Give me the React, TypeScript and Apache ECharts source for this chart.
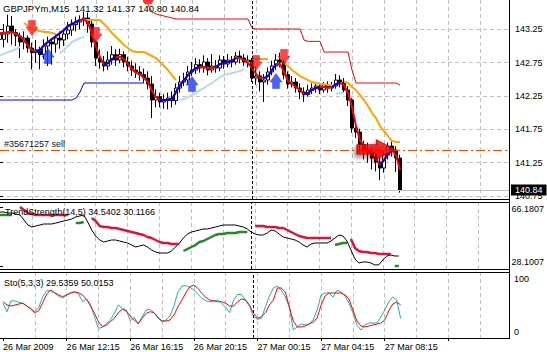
import React, { useEffect, useRef } from 'react';
import * as echarts from 'echarts';

// ---------- axes / labels ----------
const symbolName = 'GBPJPYm,M15';
const timeLabels = ['26 Mar 2009', '26 Mar 12:15', '26 Mar 16:15', '26 Mar 20:15', '27 Mar 00:15', '27 Mar 04:15', '27 Mar 08:15'];
const barsPerTimeLabel = 16;
const barsPerGridLine = 8;
const visibleBars = 127.25;
const daySeparatorBar = 63;
const priceTicks = [140.75, 141.25, 141.75, 142.25, 142.75, 143.25];
const priceRange = [140.706, 143.69];
const trendTicks = [28.1007, 66.1807];
const trendRange = [26.165, 69.408];
const stochTicks = [0, 100];
const trendHeader = 'TrendStrength(14,5) 34.5402 30.1166';
const stochHeader = 'Sto(5,3,3) 29.5359 50.0153';

// ---------- candles (bar index = position) ----------
const opens = [143.10,143.10,143.18,143.30,143.20,143.15,143.06,143.12,142.97,142.90,
 142.94,142.87,143.00,143.06,143.03,143.12,143.09,143.18,143.24,143.32,
 143.36,143.39,143.42,143.33,143.06,142.82,142.76,142.70,142.79,142.87,
 142.79,142.87,142.76,142.70,142.64,142.61,142.57,142.52,142.43,142.19,
 142.24,142.16,142.19,142.22,142.18,142.37,142.46,142.49,142.61,142.64,
 142.72,142.67,142.76,142.64,142.70,142.67,142.79,142.73,142.79,142.76,
 142.85,142.82,142.76,142.79,142.52,142.55,142.46,142.49,142.61,142.70,
 142.79,142.76,142.57,142.43,142.46,142.37,142.31,142.27,142.34,142.37,
 142.40,142.34,142.42,142.37,142.40,142.49,142.46,142.34,142.19,141.77,
 141.71,141.52,141.44,141.41,141.32,141.26,141.17,141.37,141.50,141.44,
 141.32];
const highs = [143.25,143.33,143.47,143.45,143.25,143.20,143.22,143.16,143.05,143.09,
 142.99,143.10,143.14,143.12,143.18,143.22,143.26,143.36,143.40,143.44,
 143.46,143.51,143.50,143.38,143.10,142.95,142.85,142.92,143.00,142.95,
 142.96,142.92,142.84,142.78,142.74,142.70,142.66,142.62,142.55,142.35,
 142.30,142.28,142.30,142.32,142.44,142.55,142.60,142.70,142.76,142.82,
 142.80,142.86,142.82,142.88,142.79,142.86,142.85,142.88,142.85,142.91,
 142.93,142.88,142.86,142.82,142.70,142.62,142.58,142.68,142.78,142.88,
 142.90,142.80,142.62,142.55,142.52,142.44,142.38,142.42,142.44,142.46,
 142.45,142.46,142.47,142.46,142.58,142.56,142.52,142.40,142.22,141.85,
 141.76,141.58,141.55,141.48,141.40,141.34,141.42,141.55,141.58,141.50,
 141.37];
const lows = [143.02,142.98,143.05,143.02,143.00,142.82,142.95,142.90,142.65,142.75,
 142.65,142.80,142.70,142.72,142.90,142.96,143.00,143.10,143.15,143.22,
 143.25,143.30,143.20,142.98,142.70,142.66,142.62,142.64,142.72,142.70,
 142.74,142.68,142.62,142.55,142.52,142.48,142.45,142.35,141.92,142.08,
 142.08,142.06,142.05,142.08,142.12,142.30,142.40,142.42,142.55,142.58,
 142.60,142.60,142.56,142.60,142.60,142.62,142.66,142.68,142.68,142.72,
 142.74,142.70,142.68,142.46,142.42,142.32,142.16,142.42,142.56,142.64,
 142.68,142.50,142.36,142.38,142.30,142.20,142.16,142.24,142.28,142.30,
 142.28,142.30,142.30,142.32,142.36,142.38,142.28,142.10,141.70,141.62,
 141.40,141.30,141.25,141.15,141.12,140.99,141.10,141.30,141.34,141.11,
 140.80];
const closes = [143.17,143.18,143.30,143.20,143.15,143.06,143.12,142.97,142.90,142.94,
 142.87,143.00,143.06,143.03,143.12,143.09,143.18,143.24,143.32,143.36,
 143.39,143.42,143.33,143.06,142.82,142.76,142.70,142.79,142.87,142.79,
 142.87,142.76,142.70,142.64,142.61,142.57,142.52,142.43,142.19,142.24,
 142.16,142.19,142.22,142.18,142.37,142.46,142.49,142.61,142.64,142.72,
 142.67,142.76,142.64,142.70,142.67,142.79,142.73,142.79,142.76,142.85,
 142.82,142.76,142.79,142.52,142.55,142.46,142.49,142.61,142.70,142.79,
 142.76,142.57,142.43,142.46,142.37,142.31,142.27,142.34,142.37,142.40,
 142.34,142.42,142.37,142.40,142.49,142.46,142.34,142.19,141.77,141.71,
 141.52,141.44,141.41,141.32,141.26,141.17,141.37,141.50,141.44,141.32,
 140.84];

// ---------- main-chart indicators ----------
const maValues = [143.195,143.195,143.21,143.21,143.18,143.15,143.09,143.00,142.94,142.925,
 142.94,143.015,143.06,143.105,143.15,143.195,143.24,143.30,143.33,143.36,
 143.39,143.405,143.345,143.195,142.985,142.835,142.715,142.745,142.805,142.835,
 142.835,142.805,142.73,142.655,142.595,142.58,142.52,142.46,142.325,142.235,
 142.19,142.19,142.19,142.205,142.31,142.415,142.49,142.565,142.625,142.67,
 142.685,142.685,142.67,142.67,142.685,142.73,142.745,142.76,142.775,142.82,
 142.82,142.79,142.745,142.67,142.58,142.52,142.52,142.55,142.64,142.73,
 142.73,142.61,142.475,142.43,142.385,142.34,142.28,142.295,142.34,142.37,
 142.385,142.385,142.37,142.385,142.43,142.445,142.415,142.295,142.085,141.80,
 141.59,141.50,141.425,141.365,141.305,141.215,141.29,141.38,141.44,141.365,
 141.14];
const maUpRanges = [[9, 20], [26, 29], [40, 50], [54, 59], [66, 69], [76, 80], [83, 85], [95, 98]];

const orangeSegs = [
  { start: 6, values: [143.345,143.30,143.255,143.24,143.225,143.21,143.21,143.195,143.18] },
  { start: 21, values: [143.39,143.39,143.39,143.39,143.39,143.33,143.27,143.195,143.135,143.075,143.015,142.97,142.925,142.91,142.91,142.91,142.88,142.85,142.82,142.76,142.70,142.64,142.565,142.49] },
  { start: 63, values: [142.805,142.805,142.805,142.805,142.805] },
  { start: 71, values: [142.745,142.70,142.64,142.595,142.55,142.52,142.49,142.46,142.445,142.43,142.43,142.415,142.415] },
  { start: 86, values: [142.46,142.445,142.385,142.34,142.265,142.19,142.10,141.995,141.92,141.80,141.725,141.65,141.575,141.56,141.56] },
];
const lightBlueSegs = [
  { start: 0, values: [142.865,142.88,142.91,142.925,142.955,142.985] },
  { start: 15, values: [142.895,142.94,143.00,143.06,143.09,143.12,143.135] },
  { start: 45, values: [142.19,142.205,142.235,142.265,142.295,142.34,142.37,142.415,142.445,142.49,142.535,142.565,142.58,142.595,142.61,142.625,142.655] },
  { start: 84, values: [142.28,142.295,142.295] },
];
const upperChannelSegs = [
  { start: 37, values: [143.615,143.51,143.48,143.465,143.45,143.435,143.42,
    143.405,143.405,143.405,143.405,143.405,143.405,143.405,143.405,143.405,143.405,
    143.405,143.405,143.405,143.405,143.405,143.405,143.405,143.405,143.405,
    143.27,
    143.255,143.255,143.255,143.255,143.255,143.255,143.255,143.255,143.255,143.255,143.255,143.255,
    143.09,
    143.07,143.07,143.07,143.07,
    142.91,142.91,142.91,142.91,142.91,142.91,142.91,
    142.64,
    142.445,142.445,142.445,142.445,142.445,142.445,142.445,142.445,142.445,142.445,142.445,
    142.415] },
];
const lowerChannelSegs = [
  { start: 0, values: [142.19,142.19,142.19,142.19,142.19,142.19,142.19,142.19,142.19,142.19,
    142.19,142.19,142.19,142.19,142.19,142.19,142.19,142.19,142.19,
    142.22,142.31,
    142.445,142.445,142.445,142.445,142.445,142.445,142.445,142.445,
    142.445,142.445,142.445,142.445,142.445,142.445,142.445,142.445] },
];
const sellArrows = [[8, 143.27], [24, 143.165], [64, 142.745], [71, 142.835]];
const buyArrows = [[12, 142.85], [48, 142.43], [69, 142.475]];
const topDots = [[37, 143.70]];
const orderPrice = 141.43;
const orderLabel = '#35671257 sell';
const orderArrow = [[94, 141.45]];

// ---------- TrendStrength ----------
const trendMain = [62.95,62.95,62.31,62.31,61.66,61.02,57.79,54.56,53.27,53.92,
 54.56,55.21,55.21,55.21,55.85,56.50,57.14,57.79,58.43,59.73,
 60.37,61.02,56.50,51.34,47.46,44.88,43.59,44.24,44.88,44.88,
 44.24,43.59,42.95,41.65,40.36,41.01,41.65,40.36,38.43,37.14,
 36.49,36.49,36.49,37.78,40.36,42.95,46.17,48.75,50.05,50.69,
 51.34,51.98,51.98,52.63,53.27,53.92,54.56,54.56,54.56,54.56,
 53.92,53.27,51.98,50.05,48.75,48.11,48.11,49.40,51.34,50.69,
 48.75,46.82,46.17,45.53,44.88,43.59,41.65,40.36,42.30,42.95,
 42.95,42.95,42.95,44.24,46.17,48.11,47.46,44.24,38.43,32.62,
 30.04,30.68,30.68,30.04,28.75,28.90,31.97,34.56,35.20,34.56,
 34.54];
const trendRedSegs = [
  { start: 5, values: [66.18,64.24,62.31,61.66,61.02,61.02,61.02,61.02,61.02,61.02,61.02,61.02,61.02] },
  { start: 23, values: [59.08,57.14,53.92,53.27,53.27,52.63,52.63,51.98,51.34,50.69,50.05,49.40,48.75,48.11,46.82,46.17,44.88,43.59,42.95,42.95,42.30,42.30,42.30] },
  { start: 64, values: [53.92,53.92,53.92,53.27,53.27,53.27,52.63,52.63,51.34,50.05,48.75,47.46,46.82,46.17,46.17,46.17,46.17,46.17,46.17,46.17] },
  { start: 88, values: [45.53,39.72,37.78,37.14,37.14,36.49,36.49,35.85,35.85,35.85,35.85] },
];
const trendGreenSegs = [
  { start: 0, values: [61.02,61.02,61.02,61.02] },
  { start: 19, values: [55.85,55.85,56.50] },
  { start: 46, values: [37.78,39.07,40.36,41.65,43.59,44.24,45.53,46.82,48.11,48.75,48.75,49.40,49.40,49.40,50.05,50.05,50.05] },
  { start: 84, values: [41.65,42.30,42.95,42.95] },
  { start: 99, values: [28.10,28.10] },
];

// ---------- Stochastic ----------
const stochMain = [52.6,39.8,56.5,56.1,54.1,52.6,48.5,45.0,39.8,46.5,
 62.6,71.7,71.7,67.7,63.6,60.6,65.2,69.2,70.2,66.7,
 55.0,59.1,51.1,32.3,14.7,16.2,21.2,27.3,37.4,50.0,
 45.0,42.4,26.2,31.4,21.2,32.3,42.4,43.5,38.3,29.8,
 24.7,27.3,33.3,48.5,70.2,78.8,79.2,76.8,72.7,66.2,
 60.2,56.5,55.0,56.1,57.6,52.6,46.5,38.3,57.6,66.2,
 65.6,57.6,47.4,32.3,28.3,29.8,47.4,63.6,75.8,78.8,
 72.7,62.1,47.0,12.1,16.7,21.2,19.7,21.2,27.3,42.4,
 65.2,68.2,68.2,62.1,72.7,69.7,63.6,53.0,37.9,19.7,
 12.1,19.7,22.7,22.7,22.7,31.8,42.4,54.5,62.1,57.6,
 29.54];
const stochSignal = [55.0,50.0,48.5,50.0,51.5,52.6,48.5,43.5,38.3,41.4,
 53.5,66.7,72.7,68.6,65.2,62.6,65.2,67.7,69.7,68.6,
 65.2,58.6,48.5,37.4,24.7,17.1,19.7,24.7,29.8,38.3,
 43.5,40.9,33.3,27.3,22.3,29.8,37.4,39.8,38.3,31.4,
 25.8,25.8,27.3,34.8,47.4,57.6,68.6,77.7,80.3,75.3,
 67.7,61.7,57.6,56.1,55.0,55.0,52.6,48.5,48.5,55.0,
 59.1,57.6,50.0,37.4,29.8,32.3,38.3,50.0,57.6,75.8,
 75.8,69.7,47.0,25.8,16.7,16.7,18.2,21.2,24.2,30.3,
 50.0,63.6,68.2,68.2,68.2,68.2,65.2,59.1,42.4,25.8,
 18.2,16.7,18.2,19.7,21.2,22.7,27.3,40.9,51.5,54.5,
 50.02];

// ---------- helpers ----------
const N = closes.length;
type Seg = { start: number; values: number[] };
function fromSegments(segs: Seg[]): (number | string)[][] {
  const out: (number | string)[][] = [];
  for (let k = 0; k < N; k++) out.push([k, '-']);
  segs.forEach((s) => s.values.forEach((v, i) => { out[s.start + i] = [s.start + i, v]; }));
  return out;
}
const toXY = (arr: number[]) => arr.map((v, k) => [k, v]);
const maUp = maValues.map((v, k) => [k, maUpRanges.some(([a, b]) => k >= a && k <= b) ? v : '-']);

const FONT = 'Liberation Sans';
const GRID_COLOR = '#c0c0c0';
const W = 509;

const xGrid = (i: number) => ({
  type: 'value', gridIndex: i, min: 0, max: visibleBars, interval: barsPerGridLine,
  axisLine: { show: false }, axisTick: { show: false }, axisLabel: { show: false },
  splitLine: { show: true, showMinLine: false, showMaxLine: false, lineStyle: { color: GRID_COLOR, type: [4, 3], width: 1 } },
});

const daySepLine = () => ({
  silent: true, symbol: ['none', 'none'], animation: false,
  label: { show: false },
  lineStyle: { color: '#000', type: [3, 2], width: 1 },
  data: [{ xAxis: daySeparatorBar }],
});

const lineSeries = (name: string, data: any[], color: string, width: number, xi: number, extra: any = {}) => ({
  name, type: 'line', xAxisIndex: xi, yAxisIndex: xi, data, showSymbol: false, symbol: 'none',
  silent: true, connectNulls: false, lineStyle: { color, width }, z: 3, ...extra,
});

const last = N - 1;
const titleText = `${symbolName}  ${opens[last].toFixed(2)} ${highs[last].toFixed(2)} ${lows[last].toFixed(2)} ${closes[last].toFixed(2)}`;

const option: any = {
  animation: false,
  backgroundColor: '#fff',
  textStyle: { fontFamily: FONT },
  grid: [
    { left: 0, top: 0, width: W, height: 199 },
    { left: 0, top: 202, width: W, height: 67 },
    { left: 0, top: 272, width: W, height: 66 },
  ],
  xAxis: [
    xGrid(0), xGrid(1), xGrid(2),
    {
      type: 'value', gridIndex: 2, min: 0, max: visibleBars, interval: barsPerTimeLabel, position: 'bottom',
      axisLine: { show: false },
      axisTick: { show: true, length: 3, lineStyle: { color: '#000' } },
      splitLine: { show: false },
      axisLabel: {
        show: true, margin: 4, align: 'left', fontSize: 9, color: '#000', fontFamily: FONT, showMaxLabel: false,
        formatter: (v: number) => (v % barsPerTimeLabel === 0 ? (timeLabels[v / barsPerTimeLabel] ?? '') : ''),
      },
    },
  ],
  yAxis: [
    {
      type: 'value', gridIndex: 0, position: 'right', min: priceRange[0], max: priceRange[1],
      axisLine: { show: false },
      axisTick: { show: true, length: 3, customValues: priceTicks, lineStyle: { color: '#000' } },
      axisLabel: { customValues: priceTicks, margin: 6, fontSize: 9, color: '#000', fontFamily: FONT, formatter: (v: number) => v.toFixed(2) },
      splitLine: { show: true, lineStyle: { color: GRID_COLOR, type: [4, 3], width: 1 } },
    },
    {
      type: 'value', gridIndex: 1, position: 'right', min: trendRange[0], max: trendRange[1],
      axisLine: { show: false },
      axisTick: { show: true, length: 3, customValues: trendTicks, lineStyle: { color: '#000' } },
      axisLabel: {
        customValues: trendTicks, margin: 4, fontSize: 9, color: '#000', fontFamily: FONT,
        formatter: (v: number) => (v > 50 ? `{t|${v.toFixed(4)}}` : `{b|${v.toFixed(4)}}`),
        rich: {
          t: { padding: [4, 0, 0, 0], fontSize: 9, color: '#000', fontFamily: FONT },
          b: { padding: [0, 0, 8, 0], fontSize: 9, color: '#000', fontFamily: FONT },
        },
      },
      splitLine: { show: false },
    },
    {
      type: 'value', gridIndex: 2, position: 'right', min: 0, max: 100,
      axisLine: { show: false },
      axisTick: { show: true, length: 3, customValues: stochTicks, lineStyle: { color: '#000' } },
      axisLabel: {
        customValues: stochTicks, margin: 5, fontSize: 9, color: '#000', fontFamily: FONT,
        formatter: (v: number) => (v > 50 ? `{t|${v}}` : `{b|${v}}`),
        rich: {
          t: { padding: [14, 0, 0, 0], fontSize: 9, color: '#000', fontFamily: FONT },
          b: { padding: [0, 0, 12, 0], fontSize: 9, color: '#000', fontFamily: FONT },
        },
      },
      splitLine: { show: false },
    },
  ],
  series: [
    {
      name: 'candles', type: 'candlestick', xAxisIndex: 0, yAxisIndex: 0, silent: true,
      data: opens.map((o, k) => [k, o, closes[k], lows[k], highs[k]]),
      encode: { x: 0, y: [1, 2, 3, 4] },
      barWidth: 3,
      itemStyle: { color: '#fff', color0: '#000', borderColor: '#000', borderColor0: '#000', borderColorDoji: '#000', borderWidth: 1 },
      markLine: {
        silent: true, symbol: ['none', 'none'], animation: false,
        data: [
          {
            yAxis: orderPrice,
            lineStyle: { color: '#ff4500', type: [9, 3, 2, 3], width: 1 },
            label: { show: true, position: 'insideStartTop', formatter: orderLabel, color: '#101030', fontSize: 9, fontFamily: FONT, distance: [4, 2] },
          },
          {
            yAxis: closes[last],
            lineStyle: { color: '#c0c0c0', type: 'solid', width: 1 },
            label: {
              show: true, position: 'end', formatter: closes[last].toFixed(2), color: '#fff', backgroundColor: '#000',
              fontSize: 9, fontFamily: FONT, padding: [1, 4, 0, 4], lineHeight: 10, distance: 2,
            },
          },
          {
            xAxis: daySeparatorBar,
            lineStyle: { color: '#000', type: [3, 2], width: 1 },
            label: { show: false },
          },
        ],
      },
    },
    lineSeries('lowerChannel', fromSegments(lowerChannelSegs), '#0000ff', 1, 0),
    lineSeries('upperChannel', fromSegments(upperChannelSegs), '#ff0000', 1, 0),
    lineSeries('trailLight', fromSegments(lightBlueSegs), '#b4dcec', 2, 0),
    lineSeries('trailOrange', fromSegments(orangeSegs), '#ffa500', 2, 0),
    lineSeries('maDown', toXY(maValues), '#ff0000', 2, 0),
    lineSeries('maUp', maUp, '#0000ff', 2, 0),
    {
      name: 'sell', type: 'scatter', xAxisIndex: 0, yAxisIndex: 0, silent: true, z: 4,
      data: sellArrows,
      symbol: 'path://M3,0 H11 V7 H14 L7,16 L0,7 H3 Z', symbolSize: [12, 15],
      itemStyle: { color: '#ff1a1a', borderColor: '#e00000', borderWidth: 0.5 },
    },
    {
      name: 'buy', type: 'scatter', xAxisIndex: 0, yAxisIndex: 0, silent: true, z: 4,
      data: buyArrows,
      symbol: 'path://M7,0 L14,9 H11 V16 H3 V9 H0 Z', symbolSize: [12, 15],
      itemStyle: { color: '#1a3cff', borderColor: '#0020e0', borderWidth: 0.5 },
    },
    {
      name: 'dot', type: 'scatter', xAxisIndex: 0, yAxisIndex: 0, silent: true, z: 4, clip: false,
      data: topDots, symbol: 'circle', symbolSize: 11, itemStyle: { color: '#ff0000' },
    },
    {
      name: 'orderArrow', type: 'scatter', xAxisIndex: 0, yAxisIndex: 0, silent: true, z: 5,
      data: orderArrow,
      symbol: 'path://M0,5 H19 V0 L37,10 L19,20 V15 H0 Z', symbolSize: [38, 19],
      itemStyle: { color: '#ff0000', borderColor: '#b00000', borderWidth: 1, shadowBlur: 5, shadowColor: 'rgba(0,0,0,0.55)', shadowOffsetX: -2, shadowOffsetY: 3 },
    },
    // TrendStrength pane
    lineSeries('trend', toXY(trendMain), '#000000', 1, 1, { markLine: daySepLine() }),
    lineSeries('trendRed', fromSegments(trendRedSegs), '#dc143c', 2.5, 1),
    lineSeries('trendGreen', fromSegments(trendGreenSegs), '#228b22', 2.5, 1),
    // Stochastic pane
    lineSeries('stochMain', toXY(stochMain), '#20b2aa', 1, 2, { markLine: daySepLine() }),
    lineSeries('stochSignal', toXY(stochSignal), '#ff0000', 1, 2),
  ],
  graphic: [
    { type: 'text', x: 3, y: 8, z: 100, style: { text: titleText, fontSize: 9.5, fontFamily: FONT, fill: '#000', verticalAlign: 'middle' } },
    { type: 'text', x: 5, y: 212, z: 100, style: { text: trendHeader, fontSize: 9, fontFamily: FONT, fill: '#000', verticalAlign: 'middle' } },
    { type: 'text', x: 4, y: 283, z: 100, style: { text: stochHeader, fontSize: 9, fontFamily: FONT, fill: '#000', verticalAlign: 'middle' } },
    { type: 'line', z: 100, shape: { x1: 0, y1: 199.5, x2: W + 1, y2: 199.5 }, style: { stroke: '#000', lineWidth: 1 } },
    { type: 'line', z: 100, shape: { x1: 0, y1: 202.5, x2: W + 1, y2: 202.5 }, style: { stroke: '#000', lineWidth: 1 } },
    { type: 'line', z: 100, shape: { x1: 0, y1: 269.5, x2: W + 1, y2: 269.5 }, style: { stroke: '#000', lineWidth: 1 } },
    { type: 'line', z: 100, shape: { x1: 0, y1: 272.5, x2: W + 1, y2: 272.5 }, style: { stroke: '#000', lineWidth: 1 } },
    { type: 'line', z: 100, shape: { x1: 0, y1: 338.5, x2: W + 1, y2: 338.5 }, style: { stroke: '#000', lineWidth: 1 } },
    { type: 'line', z: 100, shape: { x1: W + 0.5, y1: 0, x2: W + 0.5, y2: 339 }, style: { stroke: '#000', lineWidth: 1 } },
  ],
};

export default function App() {
  const ref = useRef<HTMLDivElement>(null);
  useEffect(() => {
    const chart = echarts.init(ref.current as HTMLDivElement, null, { renderer: 'svg' });
    chart.setOption(option);
    return () => chart.dispose();
  }, []);
  return <div ref={ref} style={{ position: 'fixed', left: 0, top: 0, width: 547, height: 352 }} />;
}
